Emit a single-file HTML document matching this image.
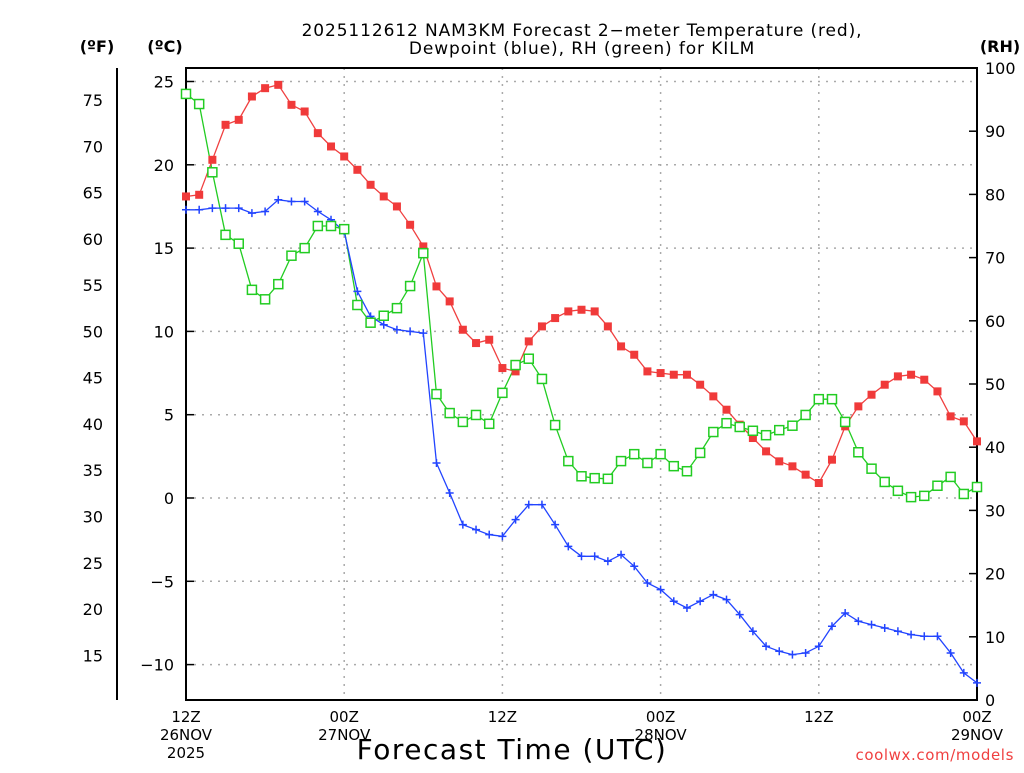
<!DOCTYPE html>
<html><head><meta charset="utf-8"><style>
body{margin:0;background:#fff}
svg text{font-family:"DejaVu Sans","Liberation Sans",sans-serif}
</style></head><body>
<svg id="chart" width="1024" height="768" xmlns="http://www.w3.org/2000/svg">
<rect width="1024" height="768" fill="#fff"/>
<g id="grid"></g>
<g id="axes"></g>
<g id="series"></g>
<text x="582" y="36" text-anchor="middle" font-size="17" letter-spacing="0.9">2025112612 NAM3KM Forecast 2−meter Temperature (red),</text>
<text x="582" y="54" text-anchor="middle" font-size="17" letter-spacing="0.9">Dewpoint (blue), RH (green) for KILM</text>
<text x="97" y="52" text-anchor="middle" font-size="16" font-weight="bold">(ºF)</text>
<text x="165" y="52" text-anchor="middle" font-size="16" font-weight="bold">(ºC)</text>
<text x="1000" y="52" text-anchor="middle" font-size="16" font-weight="bold">(RH)</text>
<text x="512" y="759" text-anchor="middle" font-size="28" letter-spacing="1.5">Forecast Time (UTC)</text>
<text x="1014" y="760" text-anchor="end" font-size="15" fill="#f04040" letter-spacing="0.6">coolwx.com/models</text>
</svg>
<script>
const hours = Array.from({length:61},(_,i)=>i);
const tempC = [18.1,18.2,20.3,22.4,22.7,24.1,24.6,24.8,23.6,23.2,21.9,21.1,20.5,19.7,18.8,18.1,17.5,16.4,15.1,12.7,11.8,10.1,9.3,9.5,7.8,7.6,9.4,10.3,10.8,11.2,11.3,11.2,10.3,9.1,8.6,7.6,7.5,7.4,7.4,6.8,6.1,5.3,4.4,3.6,2.8,2.2,1.9,1.4,0.9,2.3,4.3,5.5,6.2,6.8,7.3,7.4,7.1,6.4,4.9,4.6,3.4];
const dewC = [17.3,17.3,17.4,17.4,17.4,17.1,17.2,17.9,17.8,17.8,17.2,16.7,16.0,12.4,10.9,10.4,10.1,10.0,9.9,2.1,0.3,-1.6,-1.9,-2.2,-2.3,-1.3,-0.4,-0.4,-1.6,-2.9,-3.5,-3.5,-3.8,-3.4,-4.1,-5.1,-5.5,-6.2,-6.6,-6.2,-5.8,-6.1,-7.0,-8.0,-8.9,-9.2,-9.4,-9.3,-8.9,-7.7,-6.9,-7.4,-7.6,-7.8,-8.0,-8.2,-8.3,-8.3,-9.3,-10.5,-11.1];
const rh = [95.9,94.3,83.5,73.6,72.2,64.9,63.4,65.8,70.3,71.5,75.0,75.0,74.5,62.5,59.7,60.8,62.0,65.5,70.7,48.4,45.4,44.0,45.1,43.7,48.6,53.0,54.0,50.8,43.5,37.8,35.4,35.1,35.0,37.8,38.9,37.5,38.9,37.0,36.2,39.1,42.4,43.8,43.2,42.6,41.9,42.7,43.4,45.1,47.6,47.6,44.0,39.2,36.6,34.5,33.1,32.1,32.3,33.9,35.3,32.6,33.7];
const cTicks = [25,20,15,10,5,0,-5,-10];
const fTicks = [75,70,65,60,55,50,45,40,35,30,25,20,15];
const rhTicks = [100,90,80,70,60,50,40,30,20,10,0];
const xTickHours = [0,12,24,36,48,60];
const xTickLabels = [["12Z","26NOV","2025"],["00Z","27NOV"],["12Z"],["00Z","28NOV"],["12Z"],["00Z","29NOV"]];

const L=186,R=977,T=68,B=700;
const xS=h=>L+(R-L)*h/60;
const cS=c=>498-c*16.66;
const fS=f=>cS((f-32)*5/9);
const rS=r=>B-(B-T)*r/100;
const NS="http://www.w3.org/2000/svg";
function mk(tag,attrs,parent){const e=document.createElementNS(NS,tag);for(const k in attrs)e.setAttribute(k,attrs[k]);parent.appendChild(e);return e;}
const grid=document.getElementById('grid'),axes=document.getElementById('axes'),series=document.getElementById('series');

cTicks.forEach(c=>{const y=cS(c);
 let g=mk('line',{x1:L,x2:R,y1:y,y2:y,stroke:'#aaa','stroke-dasharray':'2,6','stroke-width':1.5},grid);
 
 
 let t=mk('text',{x:L-12,y:y+6,'text-anchor':'end','font-size':16},axes);t.textContent=c<0?'−'+(-c):c;
 
 
 let tk=mk('line',{x1:L,x2:L+8,y1:y,y2:y,stroke:'#000','stroke-width':1.5},axes);
 
 
});
xTickHours.forEach((h,i)=>{const x=xS(h);
 if(i>0&&i<xTickHours.length-1){let g=mk('line',{x1:x,x2:x,y1:T,y2:B,stroke:'#aaa','stroke-dasharray':'2,6','stroke-width':1.5},grid);
 
 }
 xTickLabels[i].forEach((s,j)=>{let t=mk('text',{x:x,y:722+j*18,'text-anchor':'middle','font-size':15},axes);t.textContent=s;
 
 });
});
rhTicks.forEach(r=>{const y=rS(r);
 let t=mk('text',{x:985,y:y+6,'font-size':16},axes);t.textContent=r;
 
 
 let tk=mk('line',{x1:R-8,x2:R,y1:y,y2:y,stroke:'#000','stroke-width':1.5},axes);
 
 
});
fTicks.forEach(f=>{const y=fS(f);
 let t=mk('text',{x:103,y:y+6,'text-anchor':'end','font-size':16},axes);t.textContent=f;
 
 
});
let fa=mk('line',{x1:117,x2:117,y1:T,y2:B,stroke:'#000','stroke-width':2},axes);


let fr=mk('rect',{x:L,y:T,width:R-L,height:B-T,fill:'none',stroke:'#000','stroke-width':2},axes);



function line(vals,yf,color,name){
 const pts=vals.map((v,i)=>xS(hours[i]).toFixed(1)+','+yf(v).toFixed(1)).join(' ');
 let p=mk('polyline',{points:pts,fill:'none',stroke:color,'stroke-width':1.3},series);
 
 
}
line(rh,rS,'#22cc22','rh');
line(tempC,cS,'#f04040','temperature');
line(dewC,cS,'#2244ff','dewpoint');
tempC.forEach((v,i)=>{const x=xS(hours[i]),y=cS(v);
 let m=mk('rect',{x:x-4,y:y-4,width:8,height:8,fill:'#f03a3a'},series);
 
 });
dewC.forEach((v,i)=>{const x=xS(hours[i]),y=cS(v);
 let m=mk('path',{d:`M${x-4},${y}H${x+4}M${x},${y-4}V${y+4}`,stroke:'#2244ff','stroke-width':1.5},series);
 
 });
rh.forEach((v,i)=>{const x=xS(hours[i]),y=rS(v);
 let m=mk('rect',{x:x-4.5,y:y-4.5,width:9,height:9,fill:'#fff',stroke:'#22cc22','stroke-width':1.5},series);
 
 });
</script>
</body></html>
